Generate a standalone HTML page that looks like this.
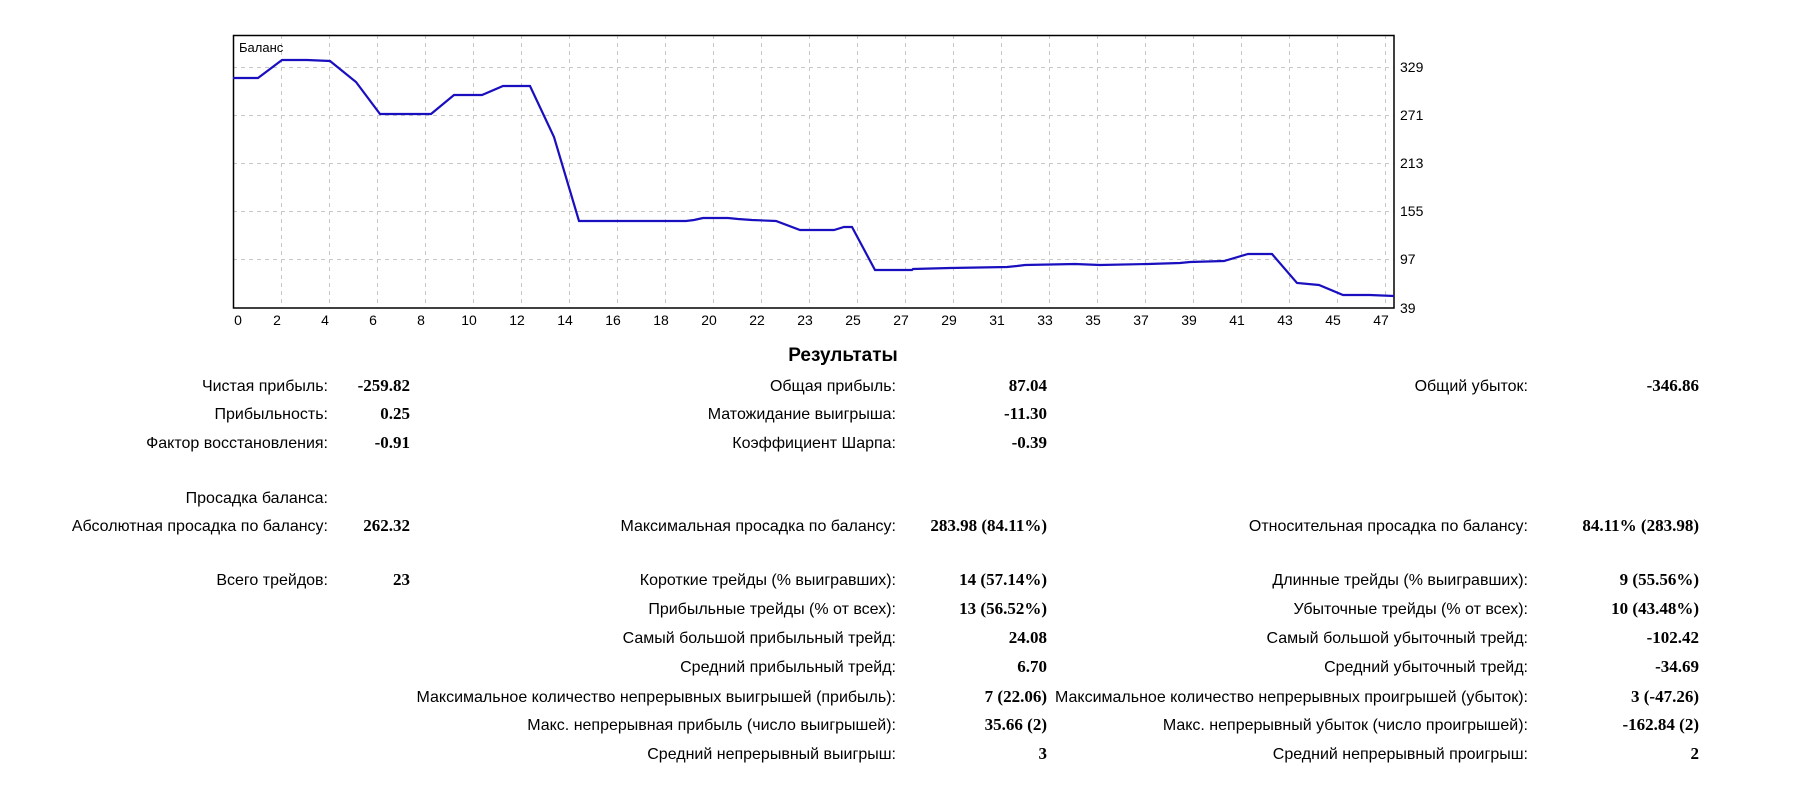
<!DOCTYPE html>
<html><head><meta charset="utf-8"><style>
html,body{margin:0;padding:0;background:#fff;}
svg{display:block;}
.l{font-family:"Liberation Sans",sans-serif;font-size:16px;fill:#000;text-anchor:end;}
.v{font-family:"Liberation Serif",serif;font-size:17px;font-weight:bold;fill:#000;text-anchor:end;}
.ax{font-family:"Liberation Sans",sans-serif;font-size:14px;fill:#000;}
</style></head><body>
<svg width="1811" height="790" xmlns="http://www.w3.org/2000/svg">
<rect width="1811" height="790" fill="#fff"/>
<g stroke="#c8c8c8" stroke-width="1" stroke-dasharray="4,4">
<line x1="281.5" y1="35" x2="281.5" y2="308"/><line x1="329.5" y1="35" x2="329.5" y2="308"/><line x1="377.5" y1="35" x2="377.5" y2="308"/><line x1="425.5" y1="35" x2="425.5" y2="308"/><line x1="473.5" y1="35" x2="473.5" y2="308"/><line x1="521.5" y1="35" x2="521.5" y2="308"/><line x1="569.5" y1="35" x2="569.5" y2="308"/><line x1="617.5" y1="35" x2="617.5" y2="308"/><line x1="665.5" y1="35" x2="665.5" y2="308"/><line x1="713.5" y1="35" x2="713.5" y2="308"/><line x1="761.5" y1="35" x2="761.5" y2="308"/><line x1="809.5" y1="35" x2="809.5" y2="308"/><line x1="857.5" y1="35" x2="857.5" y2="308"/><line x1="905.5" y1="35" x2="905.5" y2="308"/><line x1="953.5" y1="35" x2="953.5" y2="308"/><line x1="1001.5" y1="35" x2="1001.5" y2="308"/><line x1="1049.5" y1="35" x2="1049.5" y2="308"/><line x1="1097.5" y1="35" x2="1097.5" y2="308"/><line x1="1145.5" y1="35" x2="1145.5" y2="308"/><line x1="1193.5" y1="35" x2="1193.5" y2="308"/><line x1="1241.5" y1="35" x2="1241.5" y2="308"/><line x1="1289.5" y1="35" x2="1289.5" y2="308"/><line x1="1337.5" y1="35" x2="1337.5" y2="308"/><line x1="1385.5" y1="35" x2="1385.5" y2="308"/>
<line x1="233" y1="67.5" x2="1394" y2="67.5"/><line x1="233" y1="115.5" x2="1394" y2="115.5"/><line x1="233" y1="163.5" x2="1394" y2="163.5"/><line x1="233" y1="211.5" x2="1394" y2="211.5"/><line x1="233" y1="259.5" x2="1394" y2="259.5"/>
</g>
<rect x="233.5" y="35.5" width="1160.5" height="272.5" fill="none" stroke="#000" stroke-width="1.5"/>
<polyline fill="none" stroke="#1a0fbf" stroke-width="2.2" points="233,78 258,78 282,60 307,60 330,61 356,82 380,114 431,114 454,95 482,95 503,86 530,86 554,137 579,221 686,221 694,220 703,218 728,218 738,219 752,220 776,221 800,230 834,230 844,227 852,227 875,270 912,270 913,269 950,268 1007,267 1017,266 1025,265 1075,264 1100,265 1148,264 1180,263 1190,262 1224,261 1248,254 1272,254 1297,283 1319,285 1343,295 1370,295 1394,296"/>
<text x="239" y="52" class="ax" style="font-size:13px">Баланс</text>
<g class="ax">
<text x="1400" y="72">329</text><text x="1400" y="120">271</text><text x="1400" y="168">213</text><text x="1400" y="216">155</text><text x="1400" y="264">97</text><text x="1400" y="313">39</text>
</g>
<g class="ax" text-anchor="middle">
<text x="238" y="325">0</text><text x="277" y="325">2</text><text x="325" y="325">4</text><text x="373" y="325">6</text><text x="421" y="325">8</text><text x="469" y="325">10</text><text x="517" y="325">12</text><text x="565" y="325">14</text><text x="613" y="325">16</text><text x="661" y="325">18</text><text x="709" y="325">20</text><text x="757" y="325">22</text><text x="805" y="325">23</text><text x="853" y="325">25</text><text x="901" y="325">27</text><text x="949" y="325">29</text><text x="997" y="325">31</text><text x="1045" y="325">33</text><text x="1093" y="325">35</text><text x="1141" y="325">37</text><text x="1189" y="325">39</text><text x="1237" y="325">41</text><text x="1285" y="325">43</text><text x="1333" y="325">45</text><text x="1381" y="325">47</text>
</g>
<text x="843" y="361" text-anchor="middle" style="font-family:'Liberation Sans',sans-serif;font-size:19px;font-weight:bold">Результаты</text>

<text class="l" x="328" y="391">Чистая прибыль:</text><text class="v" x="410" y="391">-259.82</text>
<text class="l" x="328" y="419">Прибыльность:</text><text class="v" x="410" y="419">0.25</text>
<text class="l" x="328" y="448">Фактор восстановления:</text><text class="v" x="410" y="448">-0.91</text>
<text class="l" x="328" y="503">Просадка баланса:</text>
<text class="l" x="328" y="531">Абсолютная просадка по балансу:</text><text class="v" x="410" y="531">262.32</text>
<text class="l" x="328" y="585">Всего трейдов:</text><text class="v" x="410" y="585">23</text>

<text class="l" x="896" y="391">Общая прибыль:</text><text class="v" x="1047" y="391">87.04</text>
<text class="l" x="896" y="419">Матожидание выигрыша:</text><text class="v" x="1047" y="419">-11.30</text>
<text class="l" x="896" y="448">Коэффициент Шарпа:</text><text class="v" x="1047" y="448">-0.39</text>
<text class="l" x="896" y="531">Максимальная просадка по балансу:</text><text class="v" x="1047" y="531">283.98 (84.11%)</text>
<text class="l" x="896" y="585">Короткие трейды (% выигравших):</text><text class="v" x="1047" y="585">14 (57.14%)</text>
<text class="l" x="896" y="614">Прибыльные трейды (% от всех):</text><text class="v" x="1047" y="614">13 (56.52%)</text>
<text class="l" x="896" y="643">Самый большой прибыльный трейд:</text><text class="v" x="1047" y="643">24.08</text>
<text class="l" x="896" y="672">Средний прибыльный трейд:</text><text class="v" x="1047" y="672">6.70</text>
<text class="l" x="896" y="702">Максимальное количество непрерывных выигрышей (прибыль):</text><text class="v" x="1047" y="702">7 (22.06)</text>
<text class="l" x="896" y="730">Макс. непрерывная прибыль (число выигрышей):</text><text class="v" x="1047" y="730">35.66 (2)</text>
<text class="l" x="896" y="759">Средний непрерывный выигрыш:</text><text class="v" x="1047" y="759">3</text>

<text class="l" x="1528" y="391">Общий убыток:</text><text class="v" x="1699" y="391">-346.86</text>
<text class="l" x="1528" y="531">Относительная просадка по балансу:</text><text class="v" x="1699" y="531">84.11% (283.98)</text>
<text class="l" x="1528" y="585">Длинные трейды (% выигравших):</text><text class="v" x="1699" y="585">9 (55.56%)</text>
<text class="l" x="1528" y="614">Убыточные трейды (% от всех):</text><text class="v" x="1699" y="614">10 (43.48%)</text>
<text class="l" x="1528" y="643">Самый большой убыточный трейд:</text><text class="v" x="1699" y="643">-102.42</text>
<text class="l" x="1528" y="672">Средний убыточный трейд:</text><text class="v" x="1699" y="672">-34.69</text>
<text class="l" x="1528" y="702">Максимальное количество непрерывных проигрышей (убыток):</text><text class="v" x="1699" y="702">3 (-47.26)</text>
<text class="l" x="1528" y="730">Макс. непрерывный убыток (число проигрышей):</text><text class="v" x="1699" y="730">-162.84 (2)</text>
<text class="l" x="1528" y="759">Средний непрерывный проигрыш:</text><text class="v" x="1699" y="759">2</text>
</svg>
</body></html>
